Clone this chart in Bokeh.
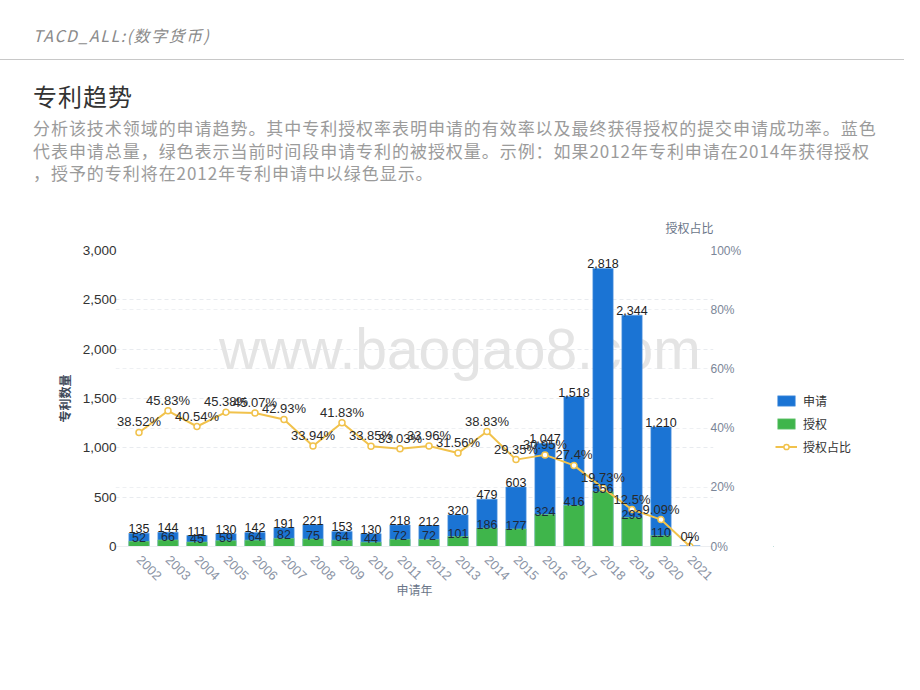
import math
from bokeh.plotting import figure
from bokeh.layouts import column, row
from bokeh.models import (ColumnDataSource, FactorRange, Range1d, LinearAxis, FixedTicker,
                          NumeralTickFormatter, PrintfTickFormatter, Grid, Label,
                          Legend, LegendItem, Title, Div)
from bokeh.core.properties import value
from bokeh.embed import file_html
from bokeh.resources import INLINE

# ---------------- data ----------------
years = ["2002", "2003", "2004", "2005", "2006", "2007", "2008", "2009", "2010", "2011",
         "2012", "2013", "2014", "2015", "2016", "2017", "2018", "2019", "2020", "2021"]
applications = [135, 144, 111, 130, 142, 191, 221, 153, 130, 218,
                212, 320, 479, 603, 1047, 1518, 2818, 2344, 1210, 7]
grants = [52, 66, 45, 59, 64, 82, 75, 64, 44, 72,
          72, 101, 186, 177, 324, 416, 556, 293, 110, 0]
grant_ratio = [38.52, 45.83, 40.54, 45.38, 45.07, 42.93, 33.94, 41.83, 33.85, 33.03,
               33.96, 31.56, 38.83, 29.35, 30.95, 27.4, 19.73, 12.5, 9.09, 0]
count_ticks = [0, 500, 1000, 1500, 2000, 2500, 3000]
pct_ticks = [0, 20, 40, 60, 80, 100]
count_max = 3000
pct_max = 100

header_text = "TACD_ALL:(数字货币)"
title_text = "专利趋势"
desc_lines = [
    "分析该技术领域的申请趋势。其中专利授权率表明申请的有效率以及最终获得授权的提交申请成功率。蓝色",
    "代表申请总量，绿色表示当前时间段申请专利的被授权量。示例：如果2012年专利申请在2014年获得授权",
    "，授予的专利将在2012年专利申请中以绿色显示。",
]
series_names = ["申请", "授权", "授权占比"]
y_title = "专利数量"
x_title = "申请年"
watermark = "www.baogao8.com"

# ---------------- styles ----------------
BLUE = "#1b74d4"
GREEN = "#3fb54b"
GOLD = "#f1c24c"
CJK = "Noto Sans CJK SC"
NUM = "Liberation Sans"
W = 904
HEAD_H = 190
CHART_H = 492
X_PAD = 0.031            # a little room so edge labels are not cut
FRAME_W = 598
B_LEFT, B_RIGHT, B_TOP, B_BOTTOM = 115, 60, 60, 136
CHART_W = B_LEFT + FRAME_W + B_RIGHT

# ---------------- header (HTML) ----------------
desc_html = "<br>".join(desc_lines)
head_html = f"""
<div style="position:relative;width:{W}px;height:{HEAD_H}px;font-family:'{CJK}',sans-serif;">
  <div style="position:absolute;left:33px;top:25px;font-size:16px;line-height:20px;
              letter-spacing:1.5px;font-style:italic;color:#8a8a8a;white-space:nowrap;">{header_text}</div>
  <div style="position:absolute;left:0px;top:59px;width:{W}px;height:0px;
              border-top:1.5px solid #c8c8c8;"></div>
  <div style="position:absolute;left:33px;top:81px;font-size:24px;line-height:30px;
              letter-spacing:1px;color:#333333;white-space:nowrap;">{title_text}</div>
  <div style="position:absolute;left:33px;top:117px;font-size:17px;line-height:22.7px;
              letter-spacing:0.95px;color:#9b9b9b;white-space:nowrap;">{desc_html}</div>
</div>
"""
head = Div(text=head_html, width=W, height=HEAD_H, margin=0)

# ---------------- chart figure ----------------
src = ColumnDataSource(dict(
    year=years,
    apps=applications,
    grants=grants,
    ratio=grant_ratio,
    apps_lbl=[f"{a:,}" for a in applications],
    grant_lbl=[f"{g:,}" if g > 0 else "" for g in grants],
    ratio_lbl=[f"{r:g}%" for r in grant_ratio],
))

p = figure(width=CHART_W, height=CHART_H,
           x_range=FactorRange(*years, range_padding=X_PAD),
           y_range=Range1d(0, count_max), output_backend="svg", toolbar_location=None,
           min_border_left=B_LEFT, min_border_right=B_RIGHT, min_border_top=B_TOP,
           min_border_bottom=B_BOTTOM, outline_line_color=None, margin=0,
           background_fill_color="white", border_fill_color="white")
p.extra_y_ranges = {"pct": Range1d(0, pct_max)}

# axes
p.yaxis.ticker = FixedTicker(ticks=count_ticks)
p.yaxis.formatter = NumeralTickFormatter(format="0,0")
p.yaxis.axis_line_color = None
p.yaxis.major_tick_line_color = None
p.yaxis.minor_tick_line_color = None
p.yaxis.major_label_text_font = NUM
p.yaxis.major_label_text_font_size = "13.5px"
p.yaxis.major_label_text_color = "#333333"
p.yaxis.major_label_standoff = -7
p.yaxis.axis_label = y_title
p.yaxis.axis_label_text_font = CJK
p.yaxis.axis_label_text_font_size = "12px"
p.yaxis.axis_label_text_font_style = "bold"
p.yaxis.axis_label_text_color = "#3d4858"
p.yaxis.axis_label_standoff = 7

right = LinearAxis(y_range_name="pct", ticker=FixedTicker(ticks=pct_ticks),
                   formatter=PrintfTickFormatter(format="%d%%"))
right.axis_line_color = None
right.major_tick_line_color = None
right.minor_tick_line_color = None
right.major_label_text_font = NUM
right.major_label_text_font_size = "12px"
right.major_label_text_color = "#7b8698"
right.major_label_standoff = -9
p.add_layout(right, "right")

p.xaxis.axis_line_color = "#eceef1"
p.xaxis.major_tick_line_color = None
p.xaxis.minor_tick_line_color = None
p.xaxis.major_label_orientation = -math.pi / 4
p.xaxis.major_label_text_font = NUM
p.xaxis.major_label_text_font_size = "13px"
p.xaxis.major_label_text_color = "#8b94a5"
p.xaxis.major_label_standoff = 5
p.xaxis.axis_label = x_title
p.xaxis.axis_label_text_font = CJK
p.xaxis.axis_label_text_font_size = "12px"
p.xaxis.axis_label_text_font_style = "normal"
p.xaxis.axis_label_text_color = "#6b7689"
p.xaxis.axis_label_standoff = -6

# right-axis title above the plot
p.add_layout(Title(text=series_names[2], align="right", offset=0, standoff=29,
                   text_font=CJK, text_font_size="12px", text_font_style="normal",
                   text_color="#6b7689"), "above")

# grids
p.xgrid.grid_line_color = None
p.ygrid.grid_line_color = "#e8ebef"
p.ygrid.grid_line_dash = "4 3"
scale = count_max / pct_max
extra_grid = Grid(dimension=1, ticker=FixedTicker(ticks=[t * scale for t in pct_ticks]),
                  grid_line_color="#eef0f3", grid_line_dash="4 3")
p.add_layout(extra_grid)

# watermark (behind the bars)
p.add_layout(Label(x=3.26, y=1997, text=watermark, text_font=NUM, text_font_size="57px",
                   text_color="#e4e4e4", text_baseline="alphabetic", level="underlay"))

# bars
bar_apps = dict(fill_color=BLUE, line_color="#5b9be0", line_width=0.6)
bar_grants = dict(fill_color=GREEN, line_color="#7fcd86", line_width=0.6)
line_style = dict(line_color=GOLD, line_width=2)
pt_style = dict(size=6, fill_color="white", line_color=GOLD, line_width=1.5)

p.vbar(x="year", top="apps", width=0.7, source=src, **bar_apps)
p.vbar(x="year", top="grants", width=0.7, source=src, **bar_grants)

# line
p.line(x="year", y="ratio", source=src, y_range_name="pct", **line_style)
p.scatter(x="year", y="ratio", source=src, y_range_name="pct", **pt_style)

# value labels
p.text(x="year", y="apps", text="apps_lbl", source=src, text_align="center",
       text_baseline="bottom", y_offset=0, text_font=value(NUM),
       text_font_size="12.5px", text_color="#222222")
p.text(x="year", y="grants", text="grant_lbl", source=src, text_align="center",
       text_baseline="bottom", y_offset=1, text_font=value(NUM),
       text_font_size="12.5px", text_color="#1f2a3a")
p.text(x="year", y="ratio", text="ratio_lbl", source=src, y_range_name="pct",
       text_align="center", text_baseline="bottom", y_offset=-3, text_font=value(NUM),
       text_font_size="13px", text_color="#2a2a2a")

# ---------------- legend panel (separate small figure) ----------------
lf = figure(width=W - CHART_W, height=CHART_H, x_range=Range1d(0, 1), y_range=Range1d(0, 1),
            x_axis_type=None, y_axis_type=None, output_backend="svg", toolbar_location=None,
            min_border_left=0, min_border_right=0, min_border_top=B_TOP,
            min_border_bottom=B_BOTTOM, outline_line_color=None, margin=0,
            background_fill_color="white", border_fill_color="white")
lf.grid.visible = False
# stand-in renderers for the legend swatches (one point kept outside the visible range)
proxy = ColumnDataSource(dict(x=[-1], y=[-1]))
l_apps = lf.vbar(x="x", top="y", width=0.5, source=proxy, **bar_apps)
l_grants = lf.vbar(x="x", top="y", width=0.5, source=proxy, **bar_grants)
l_line = lf.line(x="x", y="y", source=proxy, **line_style)
l_pts = lf.scatter(x="x", y="y", source=proxy, **pt_style)

legend = Legend(items=[
    LegendItem(label=series_names[0], renderers=[l_apps]),
    LegendItem(label=series_names[1], renderers=[l_grants]),
    LegendItem(label=series_names[2], renderers=[l_line, l_pts]),
], location=(775 - CHART_W, 90), orientation="vertical", padding=0, margin=0,
   border_line_color=None, background_fill_alpha=0, glyph_width=22, glyph_height=13,
   label_height=20, spacing=3, label_standoff=6, label_text_font=CJK,
   label_text_font_size="12px", label_text_color="#333333")
lf.add_layout(legend)

layout = column(head, row(p, lf, spacing=0), spacing=0)
open("out.html", "w").write(file_html(layout, INLINE))
